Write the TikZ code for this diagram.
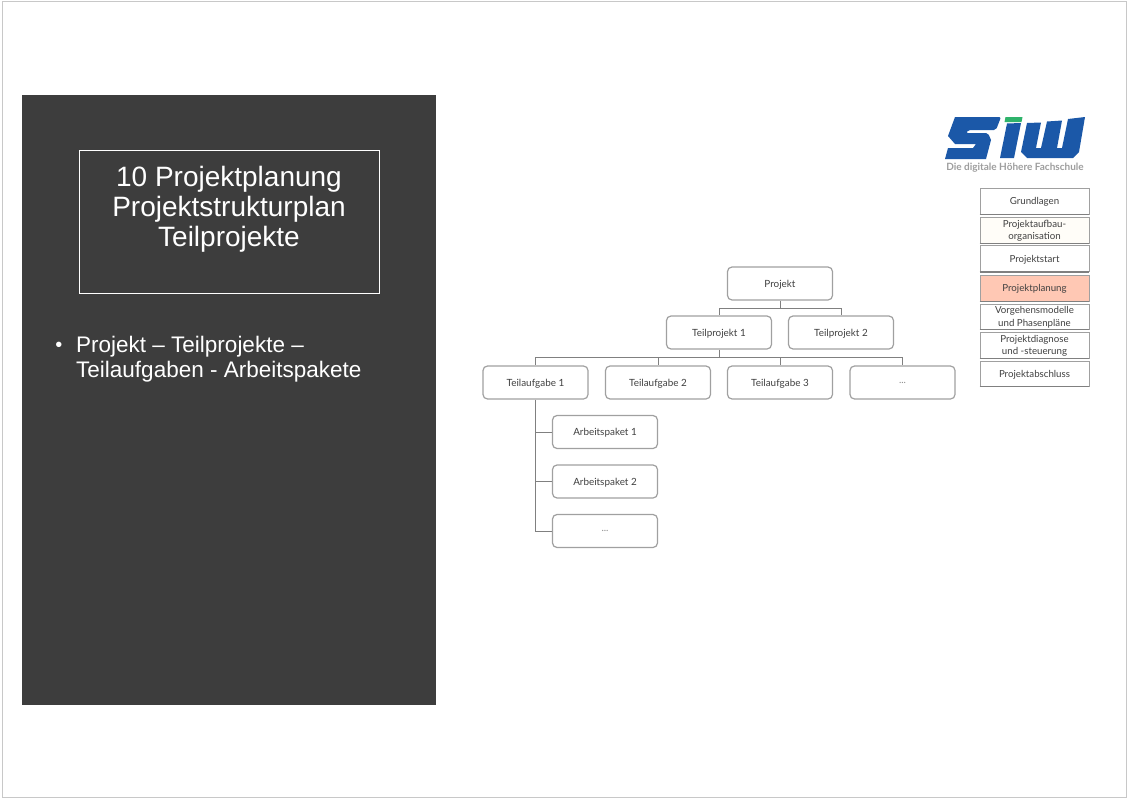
\documentclass[tikz,border=0pt]{standalone}
\usepackage{fontspec}
\setmainfont{Liberation Sans}
\newfontfamily\orgfont{Lato}
\usetikzlibrary{positioning}
\definecolor{panelgray}{HTML}{3D3D3D}
\definecolor{framegray}{HTML}{C8C8C8}
\definecolor{linegray}{HTML}{808080}
\definecolor{boxgray}{HTML}{A0A0A0}
\definecolor{textgray}{HTML}{404040}
\definecolor{menupink}{HTML}{FFC8B4}
\definecolor{menucream}{HTML}{FFFDF8}
\definecolor{logoblue}{HTML}{1B58A8}
\definecolor{logogreen}{HTML}{2FB36B}
\tikzset{
  orgbox/.style={draw=boxgray,line width=1.2pt,rounded corners=4.5pt,minimum width=105pt,minimum height=33pt,inner sep=0pt,text depth=0pt,text=textgray,font=\orgfont\fontsize{9.9}{12}\selectfont},
  menubox/.style={draw=boxgray,line width=.9pt,minimum width=109pt,inner sep=0pt,text depth=0pt,align=center,text=textgray,font=\orgfont\fontsize{9.7}{12.5}\selectfont},
  orgline/.style={draw=linegray,line width=1pt},
}
\begin{document}
\begin{tikzpicture}[x=1pt,y=-1pt]
  \useasboundingbox (0,0) rectangle (1128,800);
  \fill[white] (0,0) rectangle (1128,800);
  \draw[framegray,line width=1pt] (2,2) rectangle (1126,797);
  \fill[panelgray] (22,95) rectangle (436,705);

  % left panel
  \node (title box) at(229,221.5) [draw=white,line width=1pt,minimum width=300pt,minimum height=143pt] {};
  \node (title) at(229,209) [text=white,align=center,font=\fontsize{28}{30}\selectfont] {10 Projektplanung\\Projektstrukturplan\\Teilprojekte};
  \node (bullet) at(59,347) [text=white,inner sep=0pt,font=\fontsize{20}{25}\selectfont] {\textbullet};
  \node (item) at(76,359.5) [anchor=west,text=white,inner sep=0pt,align=left,font=\fontsize{22.5}{25}\selectfont] {Projekt -- Teilprojekte --\\Teilaufgaben - Arbeitspakete};

  % logo
  \fill[logoblue,rounded corners=2pt] (955,117) -- (1001,117) -- (996,130) -- (968,130) -- (966,133) -- (988,133) [sharp corners] -- (991,140) -- (986,159) -- (945,159) -- (948,148) -- (973,148) -- (976,144) -- (955,144) -- (948,136) -- cycle;
  \fill[logoblue] (1007,123.5) -- (1021,123) -- (1014,158) -- (1000,158) -- cycle;
  \fill[logogreen] (1005.5,117) -- (1022.5,117) -- (1021.5,122) -- (1004.5,122) -- cycle;
  \fill[logoblue] (1027,123) -- (1041,122.5) -- (1036,148) -- (1041,148) -- (1047,121.5) -- (1062,120.5) -- (1057,148) -- (1062,148) -- (1068,119) -- (1085,117) -- (1079,152) -- (1073,158) -- (1027,158) -- (1021,152) -- cycle;
  \node (logo text) at(1015,167.5) [inner sep=0pt,text=black!38,font=\orgfont\bfseries\fontsize{10}{12}\selectfont] {Die digitale Höhere Fachschule};

  % menu
  \node (menu 1) at(1034.5,201) [menubox,minimum height=26pt] {Grundlagen};
  \node (menu 2) at(1034.5,230) [menubox,minimum height=26pt,fill=menucream] {Projektaufbau-\\organisation};
  \node (menu 3) at(1034.5,258.5) [menubox,minimum height=26pt] {Projektstart};
  \node (menu 4) at(1034.5,288) [menubox,minimum height=26pt,fill=menupink] {Projektplanung};
  \node (menu 5) at(1034.5,316.5) [menubox,minimum height=25pt] {Vorgehensmodelle\\und Phasenpläne};
  \node (menu 6) at(1034.5,345) [menubox,minimum height=26pt] {Projektdiagnose\\und -steuerung};
  \node (menu 7) at(1034.5,373.5) [menubox,minimum height=25pt] {Projektabschluss};
  \foreach \i in {1,...,7}
    \draw[linegray,line width=1.1pt] (menu \i.south west) -- (menu \i.south east);

  % org chart
  \node (projekt) at(780,283.5) [orgbox] {Projekt};
  \node (teilprojekt 1) at(719,332.5) [orgbox] {Teilprojekt 1};
  \node (teilprojekt 2) at(841,332.5) [orgbox] {Teilprojekt 2};
  \node (teilaufgabe 1) at(535.5,382.5) [orgbox] {Teilaufgabe 1};
  \node (teilaufgabe 2) at(658,382.5) [orgbox] {Teilaufgabe 2};
  \node (teilaufgabe 3) at(780,382.5) [orgbox] {Teilaufgabe 3};
  \node (teilaufgabe 4) at(902.5,382.5) [orgbox,text=black!45] {...};
  \node (paket 1) at(605,432) [orgbox] {Arbeitspaket 1};
  \node (paket 2) at(605,481.5) [orgbox] {Arbeitspaket 2};
  \node (paket 3) at(605,531) [orgbox,text=black!45] {...};

  \coordinate (bus 1) at(780,308);
  \coordinate (bus 2) at(719,357);
  \path[orgline]
        (projekt) -- (bus 1)
        (bus 1) -| (teilprojekt 1)
        (bus 1) -| (teilprojekt 2)
        (teilprojekt 1) -- (bus 2)
        (bus 2) -| (teilaufgabe 1)
        (bus 2) -| (teilaufgabe 2)
        (bus 2) -| (teilaufgabe 3)
        (bus 2) -| (teilaufgabe 4)
        (teilaufgabe 1.south) |- (paket 1.west)
        (teilaufgabe 1.south) |- (paket 2.west)
        (teilaufgabe 1.south) |- (paket 3.west);
\end{tikzpicture}
\end{document}
